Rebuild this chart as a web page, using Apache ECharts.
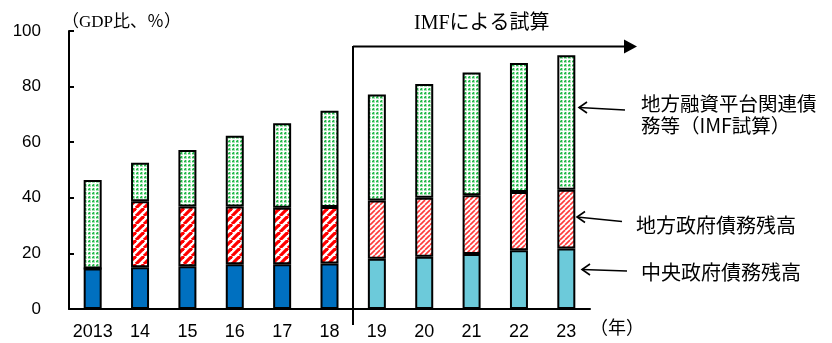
<!DOCTYPE html>
<html>
<head>
<meta charset="utf-8">
<script src="https://cdn.jsdelivr.net/npm/echarts@6/dist/echarts.min.js"></script>
<style>
  html, body { margin: 0; padding: 0; background: #fff; }
  #chart { width: 832px; height: 343px; }
</style>
</head>
<body>
<div id="chart"></div>
<script>
// ---- データ（GDP比、%） ----
var years        = ["2013", "14", "15", "16", "17", "18", "19", "20", "21", "22", "23"];
var centralDebt  = [14.6, 15.0, 15.4, 16.1, 16.1, 16.4, 18.1, 18.8, 19.8, 21.1, 21.8];
var localDebt    = [0, 23.8, 21.5, 20.8, 20.3, 20.3, 20.9, 21.2, 21.1, 21.0, 21.1];
var lgfvDebt     = [31.8, 13.8, 20.3, 25.4, 30.4, 34.6, 38.2, 40.9, 44.2, 46.4, 48.4];
var yTicks       = [0, 20, 40, 60, 80, 100];
var forecastFrom = 6;   // 2019年以降は IMF による試算

// ---- 塗りパターン（canvas） ----
function dotPattern() {
  var c = document.createElement("canvas");
  c.width = 4; c.height = 4;
  var g = c.getContext("2d");
  g.fillStyle = "#fff"; g.fillRect(0, 0, 4, 4);
  g.fillStyle = "#a8e4b6"; g.fillRect(0, 0, 3, 3);
  g.fillStyle = "#22b84a"; g.fillRect(1, 1, 1, 1);
  g.fillRect(0, 1, 1, 1); g.fillRect(1, 0, 1, 1);
  return c;
}
function stripePattern(size, width, color) {
  var c = document.createElement("canvas");
  c.width = size; c.height = size;
  var g = c.getContext("2d");
  g.fillStyle = "#fff"; g.fillRect(0, 0, size, size);
  g.strokeStyle = color; g.lineWidth = width;
  [-size, 0, size].forEach(function(o) {
    g.beginPath();
    g.moveTo(o, size); g.lineTo(o + size, 0);
    g.stroke();
  });
  return c;
}

var fillDots     = { image: dotPattern(), repeat: "repeat" };
var fillRedHist  = { image: stripePattern(8, 3.2, "#ff0000"), repeat: "repeat" };
var fillRedFcst  = { image: stripePattern(5, 1.6, "#ff3b3b"), repeat: "repeat" };

// 各バーに枠線付きのスタイルを付与
function items(values, histColor, fcstColor) {
  return values.map(function(v, i) {
    return { value: v, itemStyle: {
      color: i < forecastFrom ? histColor : fcstColor,
      borderColor: "#000", borderWidth: 2, borderType: "solid"
    } };
  });
}

var txtFont = "'Liberation Serif', 'Noto Sans CJK JP', serif";
var jpFont  = "'Noto Sans CJK JP', sans-serif";

var chart = echarts.init(document.getElementById("chart"), null, { renderer: "canvas" });

chart.setOption({
  animation: false,
  grid: { left: 69, right: 242, top: 31, bottom: 34 },
  xAxis: {
    type: "category",
    data: years,
    axisLine: { lineStyle: { color: "#000", width: 2 } },
    axisTick: { show: false },
    axisLabel: { color: "#000", fontSize: 18, fontFamily: "'Liberation Sans', Arial",
                 margin: 14, interval: 0 }
  },
  yAxis: {
    type: "value",
    min: yTicks[0], max: yTicks[yTicks.length - 1], interval: 20,
    axisLine: { show: true, lineStyle: { color: "#000", width: 2 } },
    axisTick: { show: true, inside: true, length: 5, lineStyle: { color: "#000", width: 2 } },
    axisLabel: { color: "#000", fontSize: 17, fontFamily: "'Liberation Sans', Arial", margin: 28 },
    splitLine: { show: false }
  },
  series: [
    { name: "中央政府債務残高", type: "bar", stack: "d", barWidth: 18,
      data: items(centralDebt, "#0070c0", "#6ccada") },
    { name: "地方政府債務残高", type: "bar", stack: "d", barWidth: 18,
      data: items(localDebt, fillRedHist, fillRedFcst) },
    { name: "地方融資平台関連債務等", type: "bar", stack: "d", barWidth: 18,
      data: items(lgfvDebt, fillDots, fillDots) }
  ],
  graphic: [
    // 単位
    { type: "text", left: 62, top: 14,
      style: { text: "（GDP比、％）", font: "17px " + txtFont, fill: "#000" } },
    // 年
    { type: "text", left: 590, top: 318,
      style: { text: "（年）", font: "18px " + jpFont, fill: "#000" } },
    // IMF 試算の区切り
    { type: "line", shape: { x1: 353, y1: 46, x2: 353, y2: 325 },
      style: { stroke: "#000", lineWidth: 2 } },
    { type: "line", shape: { x1: 353, y1: 46.5, x2: 626, y2: 46.5 },
      style: { stroke: "#000", lineWidth: 2 } },
    { type: "polygon", shape: { points: [[624, 39.5], [637, 46.5], [624, 53.5]] },
      style: { fill: "#000" } },
    { type: "text", left: 414, top: 14,
      style: { text: "IMFによる試算", font: "20px " + txtFont, fill: "#000" } },
    // 注記と矢印
    { type: "text", left: 641, top: 93,
      style: { text: "地方融資平台関連債\n務等（IMF試算）", font: "19.5px " + jpFont,
               lineHeight: 22, fill: "#000" } },
    { type: "text", left: 636, top: 215,
      style: { text: "地方政府債務残高", font: "20px " + jpFont, fill: "#000" } },
    { type: "text", left: 641, top: 262,
      style: { text: "中央政府債務残高", font: "20px " + jpFont, fill: "#000" } },
    { type: "polyline", shape: { points: [[625, 110], [579, 107.5]] },
      style: { stroke: "#000", lineWidth: 1.6, fill: null } },
    { type: "polyline", shape: { points: [[587, 102], [579, 107.5], [587, 113]] },
      style: { stroke: "#000", lineWidth: 1.6, fill: null } },
    { type: "polyline", shape: { points: [[622, 221.5], [577, 217]] },
      style: { stroke: "#000", lineWidth: 1.6, fill: null } },
    { type: "polyline", shape: { points: [[585, 211.5], [577, 217], [585, 222.5]] },
      style: { stroke: "#000", lineWidth: 1.6, fill: null } },
    { type: "polyline", shape: { points: [[627, 271], [582, 269.5]] },
      style: { stroke: "#000", lineWidth: 1.6, fill: null } },
    { type: "polyline", shape: { points: [[590, 264], [582, 269.5], [590, 275]] },
      style: { stroke: "#000", lineWidth: 1.6, fill: null } }
  ]
});
</script>
</body>
</html>
